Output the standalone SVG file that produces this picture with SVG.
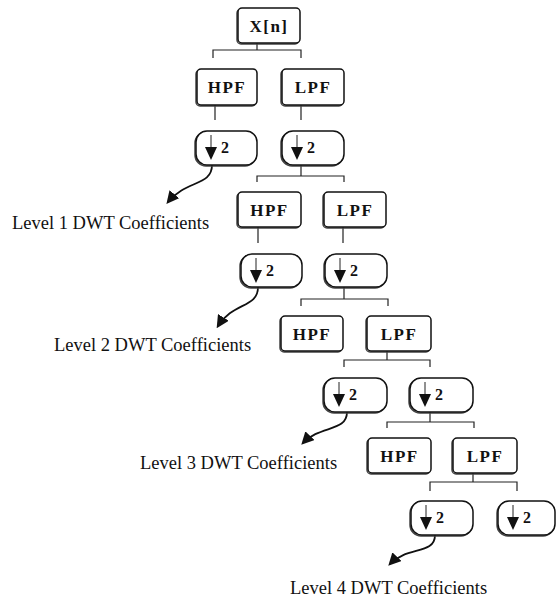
<svg xmlns="http://www.w3.org/2000/svg" width="558" height="598" viewBox="0 0 558 598">
<style>
.box{fill:#fff;stroke:#111;stroke-width:1.5}
.sh{fill:none;stroke:#444;stroke-width:1.5}
.lbl{font-family:"Liberation Serif","Times New Roman",serif;font-weight:bold;font-size:17px;text-anchor:middle;fill:#111;letter-spacing:1.5px}
.two{font-family:"Liberation Serif","Times New Roman",serif;font-weight:bold;font-size:16px;fill:#111}
.cap{font-family:"Liberation Serif","Times New Roman",serif;font-size:18.5px;fill:#111}
.ln{stroke:#222;stroke-width:1.2;fill:none}
.cv{stroke:#111;stroke-width:1.8;fill:none}
.dn{stroke:#222;stroke-width:1;fill:none}
</style>
<defs>
<marker id="head" viewBox="0 0 10 10" refX="8" refY="5" markerWidth="7" markerHeight="7" orient="auto" markerUnits="strokeWidth">
<path d="M0,0 L10,5 L0,10 z" fill="#111"/>
</marker>
<g id="dsym">
<path class="dn" d="M15,4 V18"/>
<path d="M9,16 L21,16 L15,29 z" fill="#111"/>
<text class="two" x="25" y="22">2</text>
</g>
</defs>

<g id="connectors">
<path class="ln" d="M257,43 V50 M213,58 V50 H301 V58"/>
<path class="ln" d="M215,105 V120 M301,105 V120"/>
<path class="ln" d="M301,165 V176 M257,182 V176 H344 V182"/>
<path class="ln" d="M258,227 V243 M343,227 V243"/>
<path class="ln" d="M344,287 V299 M301,306 V299 H388 V306"/>
<path class="ln" d="M387,351 V360 M344,367 V360 H430 V367"/>
<path class="ln" d="M430,412 V422 M387,428 V422 H474 V428"/>
<path class="ln" d="M473,473 V482 M430,491 V482 H517 V491"/>
<path class="cv" marker-end="url(#head)" d="M212,165 C212,186 186,180 168,202"/>
<path class="cv" marker-end="url(#head)" d="M258,287 C258,308 233,302 218,326"/>
<path class="cv" marker-end="url(#head)" d="M347,412 C347,432 320,425 303,443"/>
<path class="cv" marker-end="url(#head)" d="M435,535 C435,555 407,546 390,564"/>
</g>

<g id="xn"><rect class="sh" x="237" y="9" width="62" height="35" rx="4"/><rect class="box" x="238" y="8" width="62" height="35" rx="4"/><text class="lbl" x="269" y="32">X[n]</text></g>

<g id="hpf1"><rect class="sh" x="196" y="70" width="60" height="36" rx="4"/><rect class="box" x="197" y="69" width="60" height="36" rx="4"/><text class="lbl" x="227" y="93">HPF</text></g>
<g id="lpf1"><rect class="sh" x="281" y="70" width="62" height="36" rx="4"/><rect class="box" x="282" y="69" width="62" height="36" rx="4"/><text class="lbl" x="313" y="93">LPF</text></g>
<g id="ds1a"><rect class="sh" x="195" y="132" width="61" height="34" rx="11"/><rect class="box" x="196" y="131" width="61" height="34" rx="11"/><use href="#dsym" x="196" y="131"/></g>
<g id="ds1b"><rect class="sh" x="281" y="132" width="62" height="34" rx="11"/><rect class="box" x="282" y="131" width="62" height="34" rx="11"/><use href="#dsym" x="282" y="131"/></g>

<g id="hpf2"><rect class="sh" x="237" y="193" width="63" height="35" rx="4"/><rect class="box" x="238" y="192" width="63" height="35" rx="4"/><text class="lbl" x="269.5" y="216">HPF</text></g>
<g id="lpf2"><rect class="sh" x="323" y="193" width="62" height="35" rx="4"/><rect class="box" x="324" y="192" width="62" height="35" rx="4"/><text class="lbl" x="355" y="216">LPF</text></g>
<g id="ds2a"><rect class="sh" x="240" y="255" width="61" height="33" rx="11"/><rect class="box" x="241" y="254" width="61" height="33" rx="11"/><use href="#dsym" x="241" y="254"/></g>
<g id="ds2b"><rect class="sh" x="324" y="255" width="62" height="33" rx="11"/><rect class="box" x="325" y="254" width="62" height="33" rx="11"/><use href="#dsym" x="325" y="254"/></g>

<g id="hpf3"><rect class="sh" x="280" y="317" width="62" height="35" rx="4"/><rect class="box" x="281" y="316" width="62" height="35" rx="4"/><text class="lbl" x="312" y="340">HPF</text></g>
<g id="lpf3"><rect class="sh" x="366" y="317" width="64" height="35" rx="4"/><rect class="box" x="367" y="316" width="64" height="35" rx="4"/><text class="lbl" x="399" y="340">LPF</text></g>
<g id="ds3a"><rect class="sh" x="323" y="379" width="63" height="34" rx="11"/><rect class="box" x="324" y="378" width="63" height="34" rx="11"/><use href="#dsym" x="324" y="378"/></g>
<g id="ds3b"><rect class="sh" x="409" y="379" width="63" height="34" rx="11"/><rect class="box" x="410" y="378" width="63" height="34" rx="11"/><use href="#dsym" x="410" y="378"/></g>

<g id="hpf4"><rect class="sh" x="367" y="439" width="63" height="35" rx="4"/><rect class="box" x="368" y="438" width="63" height="35" rx="4"/><text class="lbl" x="399.5" y="462">HPF</text></g>
<g id="lpf4"><rect class="sh" x="452" y="439" width="64" height="35" rx="4"/><rect class="box" x="453" y="438" width="64" height="35" rx="4"/><text class="lbl" x="485" y="462">LPF</text></g>
<g id="ds4a"><rect class="sh" x="410" y="502" width="62" height="34" rx="11"/><rect class="box" x="411" y="501" width="62" height="34" rx="11"/><use href="#dsym" x="411" y="501"/></g>
<g id="ds4b"><rect class="sh" x="497" y="502" width="57" height="34" rx="11"/><rect class="box" x="498" y="501" width="57" height="34" rx="11"/><use href="#dsym" x="498" y="501"/></g>

<g id="labels">
<text class="cap" x="12" y="229">Level 1 DWT Coefficients</text>
<text class="cap" x="54" y="351">Level 2 DWT Coefficients</text>
<text class="cap" x="140" y="469">Level 3 DWT Coefficients</text>
<text class="cap" x="290" y="594">Level 4 DWT Coefficients</text>
</g>
</svg>
